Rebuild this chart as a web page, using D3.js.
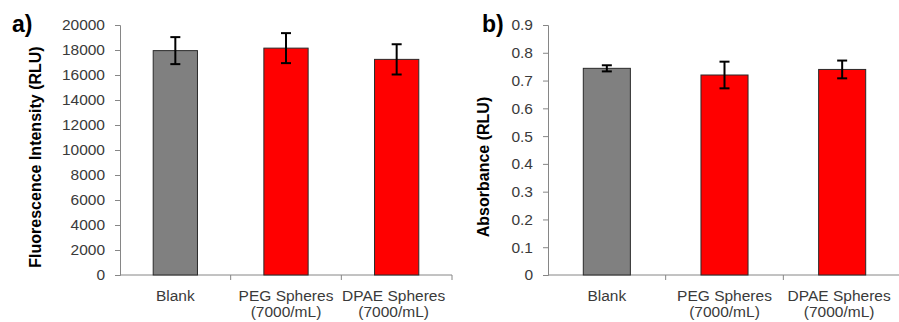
<!DOCTYPE html>
<html>
<head>
<meta charset="utf-8">
<script src="https://cdn.jsdelivr.net/npm/d3@7"></script>
<style>
  body { margin: 0; background: #fff; }
  text { font-family: "Liberation Sans", Arial, sans-serif; }
</style>
</head>
<body>
<script>
const wSvg = 899;
const hSvg = 322;

// data
const categories = ["Blank", "PEG Spheres|(7000/mL)", "DPAE Spheres|(7000/mL)"];
const barColors = ["#808080", "#ff0000", "#ff0000"];
const fluorValues = [17950, 18150, 17250];
const fluorErrors = [1080, 1200, 1210];
const fluorTicks = [0, 2000, 4000, 6000, 8000, 10000, 12000, 14000, 16000, 18000, 20000];
const absValues = [0.744, 0.720, 0.740];
const absErrors = [0.011, 0.048, 0.032];
const absTicks = [0, 0.1, 0.2, 0.3, 0.4, 0.5, 0.6, 0.7, 0.8, 0.9];

const svg = d3.select("body")
  .append("svg")
  .attr("width", wSvg)
  .attr("height", hSvg);

function drawPanel(opt) {
  const g = svg.append("g");
  const xScale = d3.scaleBand(categories, [opt.x0, opt.x1]).paddingInner(0.6).paddingOuter(0.3);
  const band = d3.scaleBand(categories, [opt.x0, opt.x1]);
  const yScale = d3.scaleLinear([0, opt.max], [275, 25]);

  // y axis
  const yAxis = g.append("g")
    .attr("transform", `translate(${opt.x0}, 0)`)
    .call(d3.axisLeft(yScale).tickValues(opt.ticks).tickSize(5).tickPadding(10)
      .tickFormat(opt.fmt));
  yAxis.select(".domain").attr("stroke", "#868686");
  yAxis.selectAll(".tick line").attr("stroke", "#868686");
  yAxis.selectAll(".tick text")
    .style("font-size", "15.5px")
    .attr("fill", "#3a3a3a");

  // x axis line with category separators
  g.append("line")
    .attr("x1", opt.x0).attr("x2", opt.x1)
    .attr("y1", 275).attr("y2", 275)
    .attr("stroke", "#868686");
  g.selectAll(".sep")
    .data(categories)
    .enter()
    .append("line")
    .attr("x1", d => band(d) + band.bandwidth())
    .attr("x2", d => band(d) + band.bandwidth())
    .attr("y1", 275).attr("y2", 280)
    .attr("stroke", "#868686");

  // bars
  g.selectAll(".bar")
    .data(opt.values)
    .enter()
    .append("rect")
    .attr("x", (d, i) => xScale(categories[i]))
    .attr("y", d => yScale(d))
    .attr("width", xScale.bandwidth())
    .attr("height", d => yScale(0) - yScale(d))
    .attr("fill", (d, i) => barColors[i])
    .attr("stroke", "#2a2a2a")
    .attr("stroke-width", 1);

  // error bars
  const cx = i => xScale(categories[i]) + xScale.bandwidth() / 2;
  opt.values.forEach((v, i) => {
    const e = opt.errors[i];
    g.append("line")
      .attr("x1", cx(i)).attr("x2", cx(i))
      .attr("y1", yScale(v + e)).attr("y2", yScale(v - e))
      .attr("stroke", "#000").attr("stroke-width", 2);
    [v + e, v - e].forEach(y => {
      g.append("line")
        .attr("x1", cx(i) - 5).attr("x2", cx(i) + 5)
        .attr("y1", yScale(y)).attr("y2", yScale(y))
        .attr("stroke", "#000").attr("stroke-width", 2);
    });
  });

  // category labels
  categories.forEach((c, i) => {
    const lines = c.split("|");
    const t = g.append("text")
      .attr("text-anchor", "middle")
      .style("font-size", "15.5px")
      .attr("fill", "#3a3a3a");
    lines.forEach((l, k) => {
      t.append("tspan")
        .attr("x", band(c) + band.bandwidth() / 2 - (i === 2 ? 3 : 0))
        .attr("y", 301 + k * 16)
        .text(l);
    });
  });

  // y title
  g.append("text")
    .attr("transform", `translate(${opt.titleX}, ${opt.titleY}) rotate(-90)`)
    .attr("text-anchor", "middle")
    .style("font-size", "16px")
    .attr("font-weight", "bold")
    .attr("fill", "#000")
    .text(opt.title);

  // panel letter
  g.append("text")
    .attr("x", opt.letterX)
    .attr("y", 32)
    .style("font-size", "23px")
    .attr("font-weight", "bold")
    .attr("fill", "#000")
    .text(opt.letter);
}

drawPanel({
  x0: 120, x1: 452, max: 20000, ticks: fluorTicks, fmt: d3.format("d"),
  values: fluorValues, errors: fluorErrors,
  title: "Fluorescence Intensity (RLU)", titleX: 41, titleY: 157,
  letter: "a)", letterX: 12
});

drawPanel({
  x0: 548, x1: 901, max: 0.9, ticks: absTicks, fmt: d => d === 0 ? "0" : d3.format(".1f")(d),
  values: absValues, errors: absErrors,
  title: "Absorbance (RLU)", titleX: 489, titleY: 167,
  letter: "b)", letterX: 482
});
</script>
</body>
</html>
